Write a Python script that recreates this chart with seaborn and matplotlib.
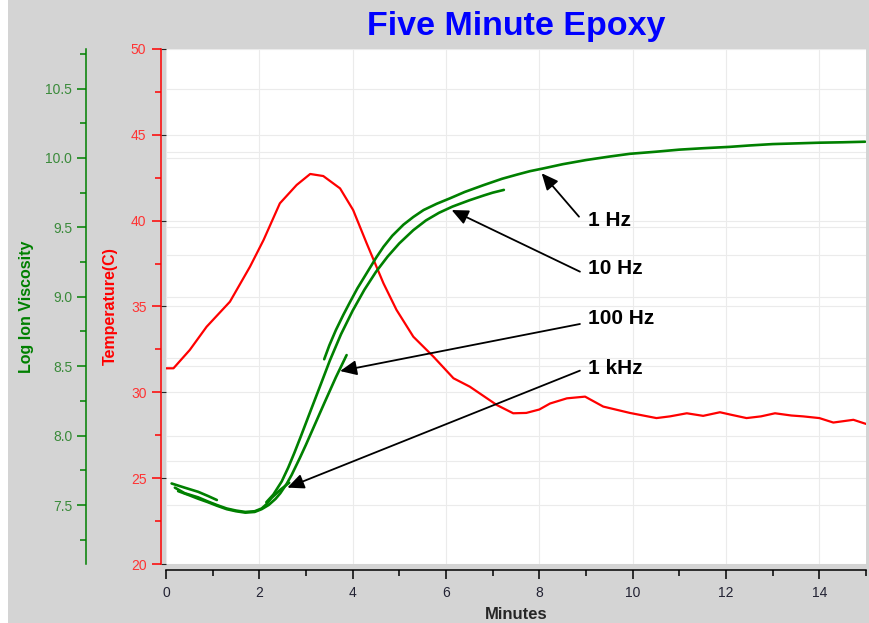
import numpy as np
import pandas as pd
import matplotlib
matplotlib.use("Agg")
import matplotlib.pyplot as plt
from matplotlib.patches import Rectangle
import seaborn as sns

# ---------------- data ----------------
temp_minutes = [0.0, 0.16, 0.51, 0.87, 1.37, 1.8, 2.09, 2.44, 2.8, 3.09, 3.37,
                3.73, 4.01, 4.3, 4.66, 4.94, 5.3, 5.73, 6.16, 6.51, 7.09, 7.44,
                7.72, 8.0, 8.23, 8.59, 8.98, 9.37, 9.94, 10.51, 10.8, 11.16, 11.51,
                11.87, 12.1, 12.44, 12.75, 13.05, 13.4, 13.65, 14.0, 14.3, 14.73,
                15.0]
temp_c = [31.4, 31.4, 32.47, 33.82, 35.28, 37.32, 38.87, 41.01, 42.08, 42.72,
          42.6, 41.88, 40.62, 38.68, 36.35, 34.8, 33.24, 32.08, 30.82, 30.33,
          29.26, 28.78, 28.8, 29.0, 29.35, 29.65, 29.75, 29.17, 28.8, 28.5, 28.6,
          28.78, 28.63, 28.84, 28.7, 28.5, 28.6, 28.78, 28.65, 28.6, 28.5, 28.24,
          28.4, 28.16]

f1hz_minutes = [3.39, 3.5, 3.64, 3.8, 3.94, 4.1, 4.3, 4.5, 4.66, 4.85, 5.09, 5.3,
                5.52, 5.8, 6.09, 6.4, 6.81, 7.2, 7.52, 7.8, 8.09, 8.5, 9.0, 9.5,
                9.94, 10.5, 11.0, 11.5, 12.08, 12.5, 13.0, 13.5, 14.0, 14.5, 14.98]
f1hz_visc = [8.55, 8.65, 8.76, 8.87, 8.96, 9.06, 9.17, 9.28, 9.36, 9.44, 9.52,
             9.575, 9.625, 9.67, 9.71, 9.755, 9.805, 9.85, 9.88, 9.905, 9.925,
             9.955, 9.985, 10.01, 10.03, 10.045, 10.06, 10.07, 10.08, 10.09, 10.1,
             10.105, 10.11, 10.113, 10.117]

f10hz_early_minutes = [0.12, 0.4, 0.69, 0.9, 1.09]
f10hz_early_visc = [7.655, 7.625, 7.595, 7.565, 7.536]
f10hz_minutes = [2.15, 2.3, 2.48, 2.62, 2.75, 2.89, 3.1, 3.34, 3.51, 3.75, 4.0,
                 4.25, 4.5, 4.75, 5.0, 5.3, 5.57, 5.85, 6.14, 6.5, 6.81, 7.0, 7.24]
f10hz_visc = [7.52, 7.575, 7.67, 7.77, 7.875, 7.995, 8.18, 8.39, 8.54, 8.73, 8.9,
              9.05, 9.18, 9.29, 9.385, 9.48, 9.55, 9.605, 9.65, 9.695, 9.73, 9.75,
              9.77]

f100hz_minutes = [0.26, 0.5, 0.69, 0.9, 1.09, 1.3, 1.5, 1.7, 1.9, 2.05, 2.2, 2.35,
                  2.45, 2.59, 2.69, 2.87, 3.0, 3.19, 3.4, 3.64, 3.87]
f100hz_visc = [7.6, 7.57, 7.545, 7.52, 7.495, 7.47, 7.455, 7.445, 7.45, 7.47, 7.5,
               7.545, 7.585, 7.655, 7.715, 7.84, 7.935, 8.08, 8.24, 8.42, 8.58]

f1khz_minutes = [0.19, 0.4, 0.69, 0.9, 1.09, 1.3, 1.5, 1.7, 1.9, 2.05, 2.15, 2.26,
                 2.45, 2.64]
f1khz_visc = [7.625, 7.585, 7.555, 7.525, 7.5, 7.475, 7.46, 7.45, 7.455, 7.475,
              7.505, 7.55, 7.61, 7.66]

minute_ticks = [0, 2, 4, 6, 8, 10, 12, 14]
minute_minor_ticks = [1, 3, 5, 7, 9, 11, 13, 15]
temp_ticks = [20, 25, 30, 35, 40, 45, 50]
temp_minor_ticks = [22.5, 27.5, 32.5, 37.5, 42.5, 47.5]
visc_ticks = [7.5, 8.0, 8.5, 9.0, 9.5, 10.0, 10.5]
visc_minor_ticks = [7.25, 7.75, 8.25, 8.75, 9.25, 9.75, 10.25, 10.75]
division_ticks = [1, 2, 3, 4]

title_text = "Five Minute Epoxy"
x_label = "Minutes"
temp_label = "Temperature(C)"
visc_label = "Log Ion Viscosity"
freq_labels = ["1 Hz", "10 Hz", "100 Hz", "1 kHz"]

# annotation layout (viscosity-axis data coords): tip, arrow start, text position
arrow_tips = [(8.05, 9.89), (6.12, 9.625), (3.73, 8.465), (2.60, 7.625)]
arrow_starts = [(8.85, 9.577), (8.87, 9.181), (8.87, 8.804), (8.87, 8.468)]
label_pos = [(9.04, 9.548), (9.04, 9.202), (9.04, 8.847), (9.04, 8.482)]

# green data frame (one unit per drawn segment)
segments = [("1 Hz", f1hz_minutes, f1hz_visc),
            ("10 Hz a", f10hz_early_minutes, f10hz_early_visc),
            ("10 Hz b", f10hz_minutes, f10hz_visc),
            ("100 Hz", f100hz_minutes, f100hz_visc),
            ("1 kHz", f1khz_minutes, f1khz_visc)]
green_df = pd.concat([pd.DataFrame({"minutes": m, "visc": v, "segment": s})
                      for s, m, v in segments], ignore_index=True)
temp_df = pd.DataFrame({"minutes": temp_minutes, "temp": temp_c})

# ---------------- style ----------------
sns.set_style("white")
plt.rcParams["font.family"] = ["Liberation Sans", "DejaVu Sans"]

RED = "#ff0000"
GREEN = "#008000"
GRID = "#ebebeb"
W, H = 869, 623

fig = plt.figure(figsize=(W / 100, H / 100), dpi=100, facecolor="#d4d4d4")
fig.add_artist(Rectangle((0, 0), 8 / W, 1, transform=fig.transFigure,
                         facecolor="white", edgecolor="none", zorder=-5))
rect = [166 / W, 1 - 564 / H, 700 / W, 515 / H]

# background axes: white area, x axis, temperature grid
ax_bg = fig.add_axes(rect)
ax_bg.set_facecolor("white")
ax_bg.set_xlim(0, 15)
ax_bg.set_ylim(20, 50)
ax_bg.set_xticks(minute_ticks)
ax_bg.set_xticks(minute_minor_ticks, minor=True)
ax_bg.set_yticks(temp_ticks)
ax_bg.grid(True, which="major", color=GRID, lw=0.8)
ax_bg.tick_params(axis="y", left=False, right=False, labelleft=False)
for s in ["top", "right", "left"]:
    ax_bg.spines[s].set_visible(False)
ax_bg.spines["bottom"].set_position(("outward", 4.3))
ax_bg.spines["bottom"].set_color("black")
ax_bg.spines["bottom"].set_linewidth(1.1)
ax_bg.tick_params(axis="x", which="major", bottom=True, direction="out",
                  length=6.5, width=1.1, color="black", labelsize=10,
                  labelcolor="#222233", pad=5)
ax_bg.tick_params(axis="x", which="minor", bottom=True, direction="out",
                  length=4.3, width=1.1, color="black")
ax_bg.set_xlabel(x_label, fontsize=12, fontweight="bold", labelpad=5)

def hidden_twin(base, ylim, ticks):
    t = base.twinx()
    t.set_ylim(*ylim)
    t.set_yticks(ticks)
    t.grid(True, axis="y", color=GRID, lw=0.8)
    t.tick_params(axis="y", left=False, right=False, labelleft=False,
                  labelright=False)
    for s in t.spines.values():
        s.set_visible(False)
    return t

VISC_LIM = (7.075, 10.785)
ax_vg = hidden_twin(ax_bg, VISC_LIM, visc_ticks)
ax_dg = hidden_twin(ax_bg, (0, 5), division_ticks)

# temperature axis
ax_t = ax_bg.twinx()
sns.lineplot(data=temp_df, x="minutes", y="temp", ax=ax_t, color=RED,
             linewidth=1.6, estimator=None, sort=False)
# viscosity axis
ax_v = ax_bg.twinx()
sns.lineplot(data=green_df, x="minutes", y="visc", units="segment", ax=ax_v,
             color=GREEN, linewidth=1.9, estimator=None, sort=False, legend=False)

for a, lim, ticks, mticks, col, lcol, off, lab, lpad in [
        (ax_t, (20, 50), temp_ticks, temp_minor_ticks, RED, "#ff3333", 3.6,
         temp_label, 9.4),
        (ax_v, VISC_LIM, visc_ticks, visc_minor_ticks, GREEN, "#3a8a3a", 57.4,
         visc_label, 8.5)]:
    a.set_xlim(0, 15)
    a.set_ylim(*lim)
    a.yaxis.tick_left()
    a.yaxis.set_label_position("left")
    a.set_yticks(ticks)
    a.set_yticks(mticks, minor=True)
    if a is ax_v:
        a.set_yticklabels([f"{t:.1f}" for t in ticks])
    for s in ["top", "right", "bottom"]:
        a.spines[s].set_visible(False)
    a.spines["left"].set_visible(True)
    a.spines["left"].set_position(("outward", off))
    a.spines["left"].set_color(col)
    a.spines["left"].set_linewidth(1.1)
    a.tick_params(axis="y", which="major", left=True, right=False, direction="out",
                  length=6.5, width=1.1, color=col, labelcolor=lcol,
                  labelsize=10, pad=4 if a is ax_t else 3.6)
    a.tick_params(axis="y", which="minor", left=True, right=False, direction="out",
                  length=4.3, width=1.1, color=col)
    a.set_xlabel("")
    a.set_ylabel(lab, color=col, fontsize=11.5, fontweight="bold", labelpad=lpad)

# annotations
for lab, tip, start, pos in zip(freq_labels, arrow_tips, arrow_starts, label_pos):
    ax_v.annotate("", xy=tip, xytext=start,
                  arrowprops=dict(arrowstyle="-|>,head_length=1.0,head_width=0.45",
                                  color="black", lw=1.3, shrinkA=0, shrinkB=0,
                                  mutation_scale=10))
    ax_v.text(pos[0], pos[1], lab, fontsize=15, fontweight="bold",
              ha="left", va="center", color="black")

fig.text(516 / W, 1 - 27 / H, title_text, color="#0000ff", fontsize=24.5,
         fontweight="bold", ha="center", va="center")

fig.savefig("out.png", dpi=100, facecolor=fig.get_facecolor())
